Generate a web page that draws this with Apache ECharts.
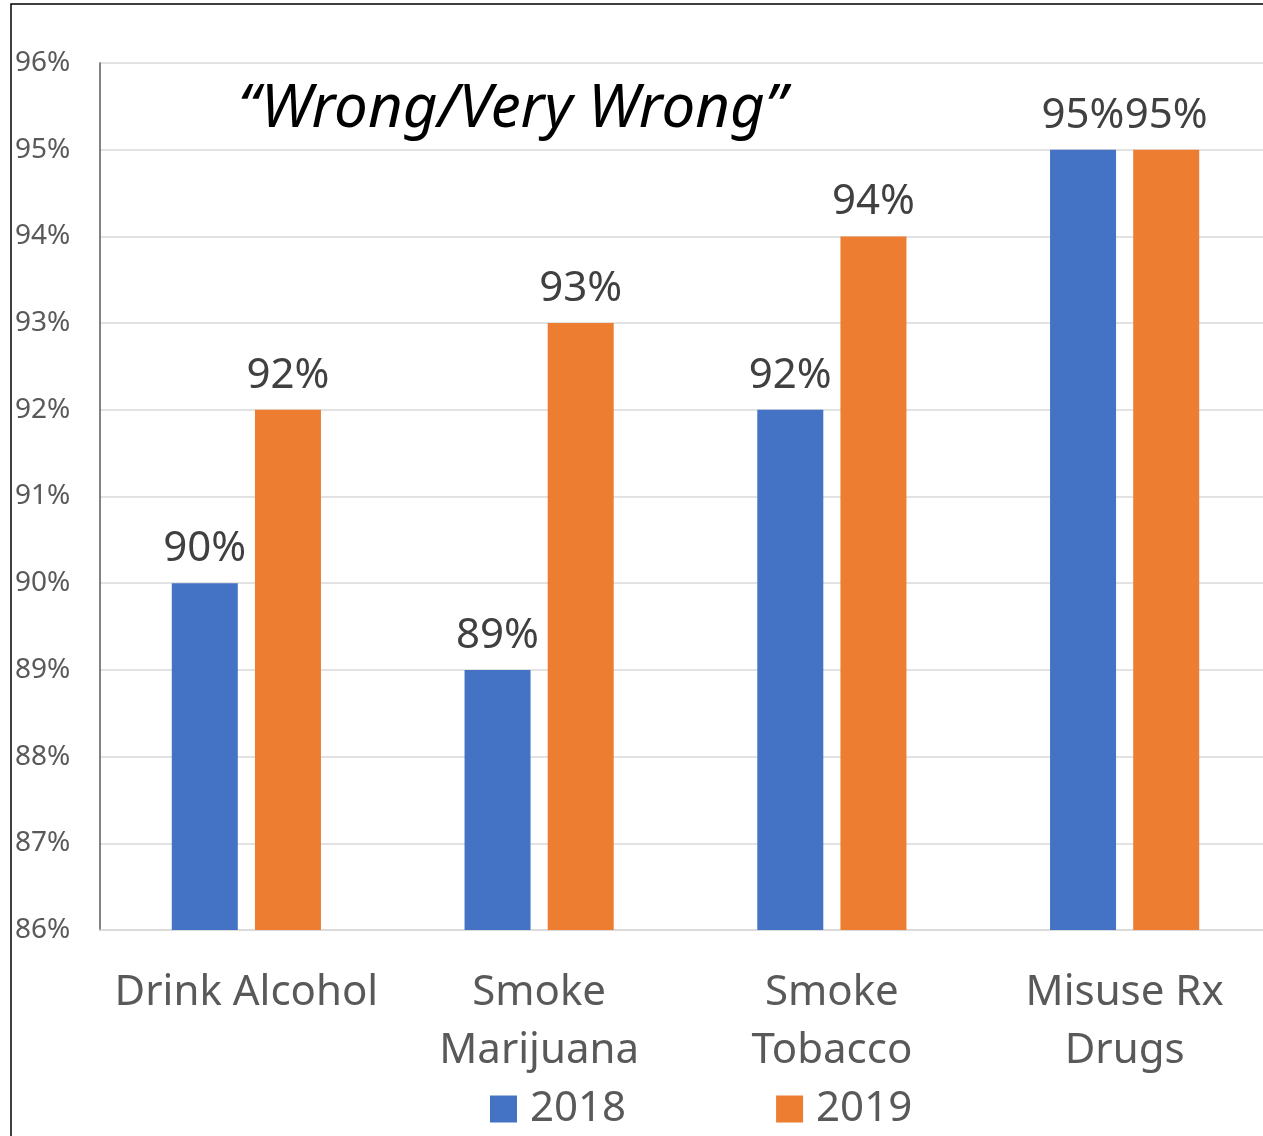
<!DOCTYPE html>
<html>
<head>
<meta charset="utf-8">
<script src="https://cdn.jsdelivr.net/npm/echarts@6/dist/echarts.min.js"></script>
<style>
html,body{margin:0;padding:0;background:#fff;}
#chart{width:1263px;height:1136px;}
</style>
</head>
<body>
<div id="chart"></div>
<script>
// Share of students who think each behaviour is wrong or very wrong
const categories = ['Drink Alcohol', 'Smoke\nMarijuana', 'Smoke\nTobacco', 'Misuse Rx\nDrugs'];
const values2018 = [90, 89, 92, 95];
const values2019 = [92, 93, 94, 95];
const seriesNames = ['2018', '2019'];
const yTicks = { min: 86, max: 96, step: 1 };

const FONT = '"Noto Sans", "Open Sans", sans-serif';
const chart = echarts.init(document.getElementById('chart'), null, { renderer: 'canvas' });

const labelStyle = {
  show: true,
  position: 'top',
  distance: 13,
  formatter: p => p.value + '%',
  color: '#404040',
  fontSize: 42,
  fontFamily: FONT
};

chart.setOption({
  backgroundColor: '#fff',
  animation: false,
  title: {
    text: '\u201CWrong/Very Wrong\u201D',
    left: 238,
    top: 80,
    padding: 0,
    textStyle: { fontFamily: FONT, fontStyle: 'italic', fontWeight: 'normal', fontSize: 60, color: '#000' }
  },
  graphic: [{
    type: 'rect',
    shape: { x: 11, y: 4, width: 1400, height: 1300 },
    style: { fill: 'none', stroke: '#000', lineWidth: 1.5 },
    silent: true,
    z: 100
  }],
  legend: {
    data: seriesNames,
    bottom: 6,
    left: 490,
    padding: 0,
    itemWidth: 27,
    itemHeight: 27,
    itemGap: 150,
    icon: 'rect',
    textStyle: { fontFamily: FONT, fontSize: 42, color: '#595959', padding: [0, 0, 0, 8] }
  },
  // plot area runs slightly past the right edge of the canvas
  grid: { left: 100, width: 1171, top: 63, bottom: 206, containLabel: false, outerBoundsMode: 'none' },
  xAxis: {
    type: 'category',
    data: categories,
    axisLine: { show: true, lineStyle: { color: '#d9d9d9', width: 1.5 } },
    axisTick: { show: false },
    axisLabel: { color: '#595959', fontFamily: FONT, fontSize: 42, lineHeight: 58, margin: 34, interval: 0 }
  },
  yAxis: {
    type: 'value',
    min: yTicks.min,
    max: yTicks.max,
    interval: yTicks.step,
    axisLine: { show: true, lineStyle: { color: '#595959', width: 1.5 } },
    axisTick: { show: false },
    splitLine: { lineStyle: { color: '#d9d9d9', width: 1.5 } },
    axisLabel: { formatter: '{value}%', align: 'left', margin: 85, color: '#595959', fontFamily: FONT, fontSize: 28 }
  },
  series: [
    { name: seriesNames[0], type: 'bar', data: values2018, barWidth: 66, barGap: '26%', itemStyle: { color: '#4472c4' }, label: labelStyle },
    { name: seriesNames[1], type: 'bar', data: values2019, barWidth: 66, itemStyle: { color: '#ed7d31' }, label: labelStyle }
  ]
});
</script>
</body>
</html>
